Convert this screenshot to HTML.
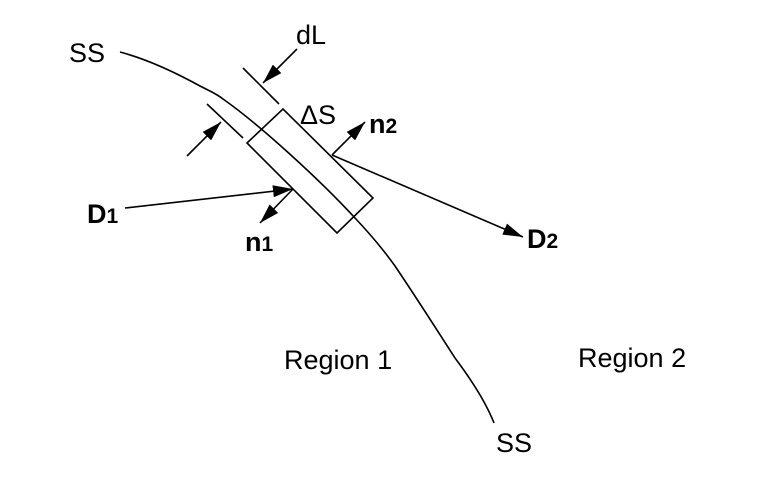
<!DOCTYPE html>
<html><head><style>
html,body{margin:0;padding:0;background:#fff;}
svg{display:block;}
text{font-family:"Liberation Sans",Arial,sans-serif;fill:#000;}
</style></head><body>
<svg width="758" height="492" viewBox="0 0 758 492" xmlns="http://www.w3.org/2000/svg">
<defs>
<marker id="b" markerWidth="20" markerHeight="12" refX="20" refY="6" orient="auto" markerUnits="userSpaceOnUse" viewBox="0 0 20 12">
<path d="M0,0 L20,6 L0,12 z" fill="#000"/>
</marker>
</defs>
<g stroke="#000" stroke-width="1.6" fill="none">
<path d="M120,52 C150,60 180,75 200,86 C212,92 218,95 223,99 C260,125 320,180 355,218 C372,236 385,252 395,266 C420,303 440,335 455,358 C470,378 485,400 494,423"/>
<polygon points="247,143 283,109 373,198 337,233"/>
<line x1="243" y1="68" x2="279" y2="104"/>
<line x1="207" y1="104" x2="243" y2="138"/>
<line x1="297" y1="49" x2="263" y2="83" marker-end="url(#b)"/>
<line x1="187" y1="156" x2="221" y2="122" marker-end="url(#b)"/>
<line x1="332" y1="155" x2="365" y2="122" marker-end="url(#b)"/>
<line x1="332" y1="155" x2="523" y2="237" marker-end="url(#b)"/>
<line x1="125" y1="208" x2="293" y2="189" marker-end="url(#b)"/>
<line x1="293" y1="189" x2="260" y2="223" marker-end="url(#b)"/>
</g>
<text x="69" y="62" font-size="27">SS</text>
<text x="296" y="44" font-size="27">dL</text>
<text x="300" y="124" font-size="27">ΔS</text>
<text x="369" y="133" font-size="27" font-weight="bold">n<tspan font-size="21">2</tspan></text>
<text x="87" y="223" font-size="27" font-weight="bold">D<tspan font-size="21">1</tspan></text>
<text x="245" y="251" font-size="27" font-weight="bold">n<tspan font-size="21">1</tspan></text>
<text x="527" y="248" font-size="27" font-weight="bold">D<tspan font-size="21">2</tspan></text>
<text x="284" y="369" font-size="27">Region 1</text>
<text x="578" y="367" font-size="27">Region 2</text>
<text x="496" y="452" font-size="27">SS</text>
</svg>
</body></html>
